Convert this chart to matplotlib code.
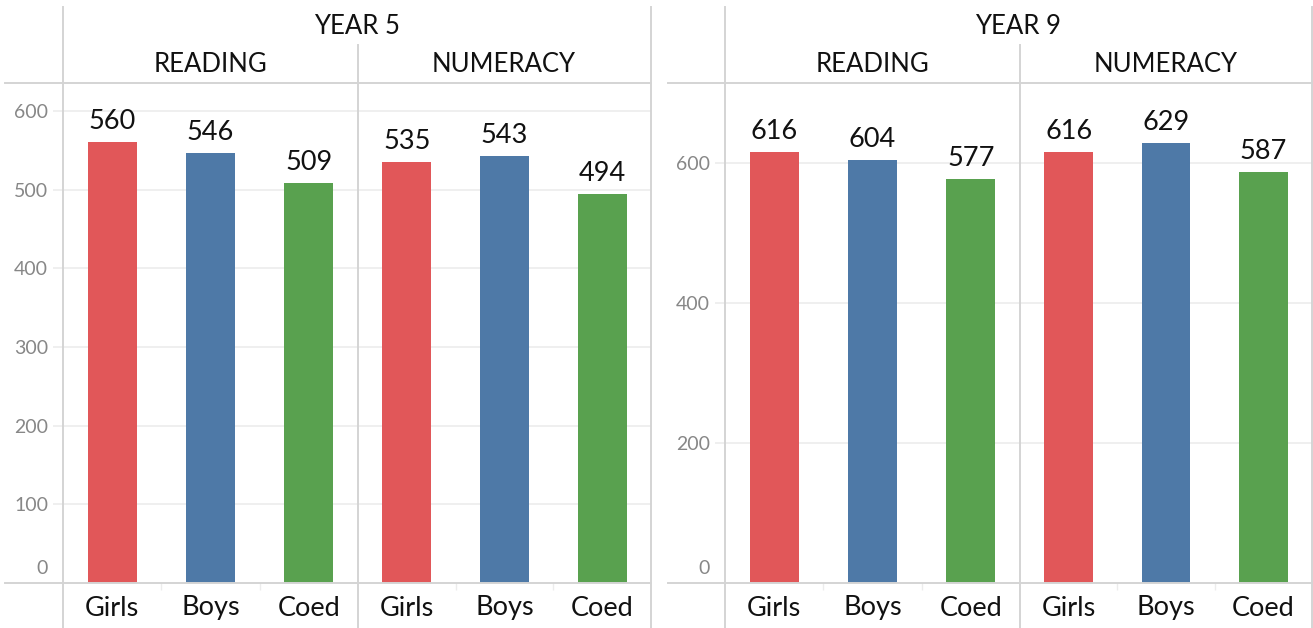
import matplotlib
matplotlib.use("Agg")
import matplotlib.pyplot as plt
from matplotlib.lines import Line2D

# data
groups = ['Girls', 'Boys', 'Coed']
y5_reading = [560, 546, 509]
y5_numeracy = [535, 543, 494]
y9_reading = [616, 604, 577]
y9_numeracy = [616, 629, 587]
y5_ticks = [100, 200, 300, 400, 500, 600]
y9_ticks = [200, 400, 600]
colors = ['#E15759', '#4E79A7', '#59A14F']

plt.rcParams['font.family'] = ['Lato', 'DejaVu Sans']

W, H = 1313, 628
fig = plt.figure(figsize=(W / 100, H / 100), dpi=100)

def fx(px):
    return px / W

def fy(py):
    return 1 - py / H

TOP, BOT = 83, 583
line_c = '#d4d4d4'
grid_c = '#ebebeb'
tick_c = '#878787'
txt_c = '#111111'

def panel(x0, x1, vals, ymax, ticks, show_y):
    ax = fig.add_axes([fx(x0), fy(BOT), (x1 - x0) / W, (BOT - TOP) / H])
    ax.bar(range(3), vals, width=0.5, color=colors, zorder=3)
    ax.set_xlim(-0.5, 2.5)
    ax.set_ylim(0, ymax)
    for s in ax.spines.values():
        s.set_visible(False)
    ax.set_xticks(range(3), groups)
    ax.set_xticks([0.5, 1.5], minor=True)
    ax.tick_params(axis='x', which='major', length=0, pad=9, labelsize=19.5, labelcolor=txt_c)
    ax.tick_params(axis='x', which='minor', length=5, width=1, color='#ececec')
    ax.set_yticks(ticks, [str(t) for t in ticks])
    ax.yaxis.grid(True, color=grid_c, lw=1.1)
    ax.set_axisbelow(True)
    if show_y:
        ax.tick_params(axis='y', length=7.2, width=1.1, color=grid_c,
                       labelcolor=tick_c, labelsize=14, pad=3.6)
        ax.annotate('0', xy=(0, 0), xycoords=('axes fraction', 'data'),
                    xytext=(-15, 15), textcoords='offset pixels',
                    ha='right', va='center', color=tick_c, fontsize=14)
    else:
        ax.tick_params(axis='y', left=False, labelleft=False)
    for i, v in enumerate(vals):
        ax.annotate(str(v), (i, v), xytext=(0, 13), textcoords='offset pixels',
                    ha='center', va='baseline', fontsize=19.5, color=txt_c)
    return ax

panel(63, 358, y5_reading, 635.6, y5_ticks, True)
panel(358, 651, y5_numeracy, 635.6, y5_ticks, False)
panel(725, 1020, y9_reading, 714.3, y9_ticks, True)
panel(1020, 1312, y9_numeracy, 714.3, y9_ticks, False)

# header texts
heads = [('YEAR 5', 357, 26), ('READING', 210, 64), ('NUMERACY', 504, 64),
         ('YEAR 9', 1018, 26), ('READING', 872, 64), ('NUMERACY', 1166, 64)]
for t, x, y in heads:
    fig.text(fx(x), fy(y), t, ha='center', va='center', fontsize=18.5, color=txt_c)

# table lines
segs = [
    (5, 651, TOP, TOP), (668, 1313, TOP, TOP),
    (5, 651, BOT, BOT), (668, 1313, BOT, BOT),
    (63, 63, 7, 628), (358, 358, 45, 628), (651, 651, 7, 628),
    (725, 725, 7, 628), (1020, 1020, 45, 628), (1312, 1312, 7, 628),
]
for xa, xb, ya, yb in segs:
    fig.add_artist(Line2D([fx(xa), fx(xb)], [fy(ya), fy(yb)], color=line_c,
                          lw=1.4, transform=fig.transFigure))

fig.savefig('out.png', dpi=100)
